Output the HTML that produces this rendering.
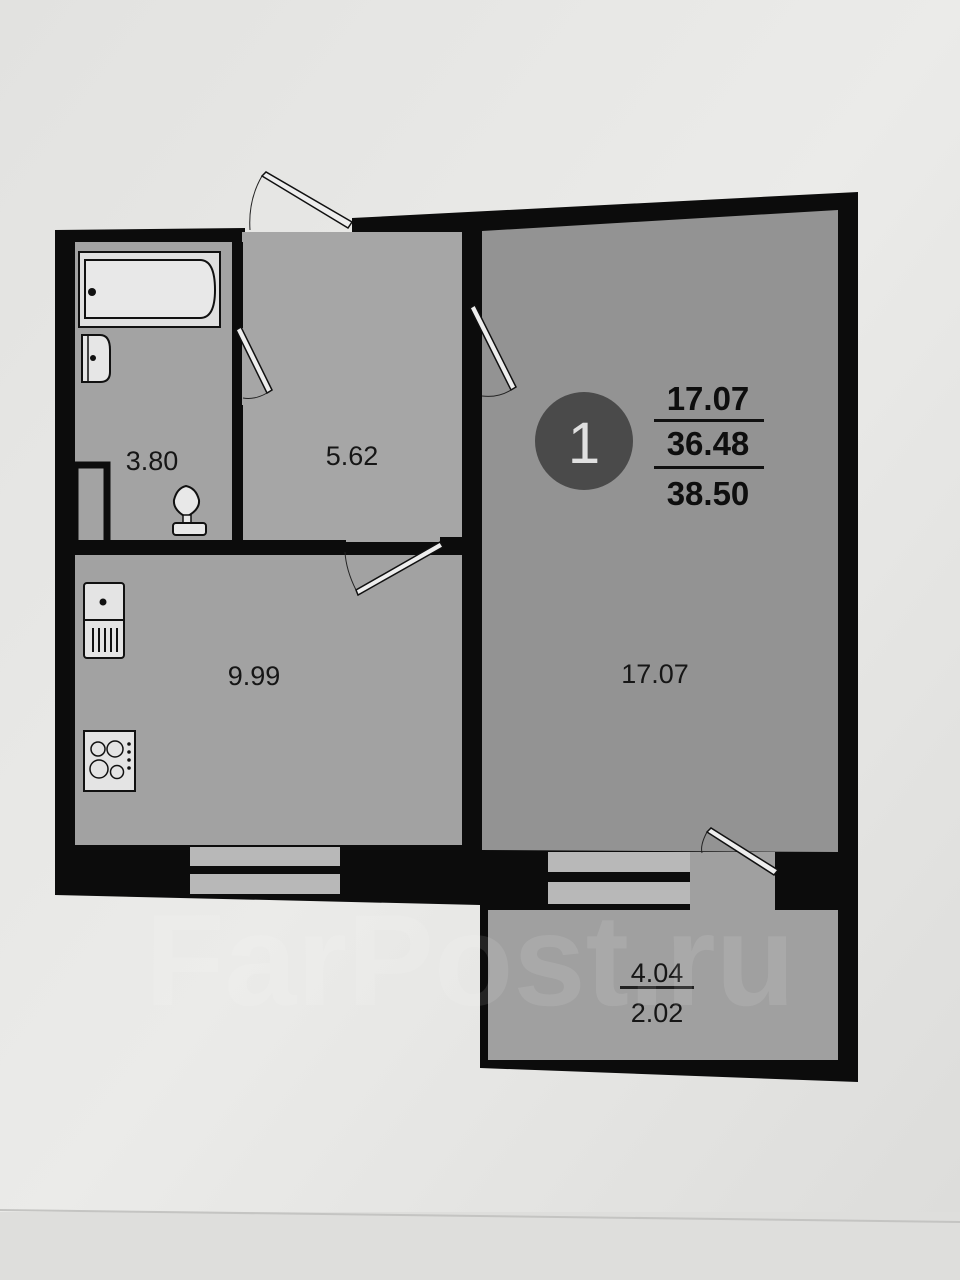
<!DOCTYPE html>
<html><head><meta charset="utf-8"><style>
html,body{margin:0;padding:0;width:960px;height:1280px;overflow:hidden;background:#e4e4e2;}
svg{display:block}
text{font-family:"Liberation Sans",Arial,sans-serif;}
</style></head><body>
<svg width="960" height="1280" viewBox="0 0 960 1280">
<defs>
<linearGradient id="bg" x1="0" y1="0" x2="1" y2="1">
<stop offset="0" stop-color="#e2e2e0"/><stop offset="0.5" stop-color="#ebebe9"/><stop offset="1" stop-color="#dcdcda"/>
</linearGradient>
</defs>
<rect width="960" height="1280" fill="url(#bg)"/>
<rect x="0" y="1212" width="960" height="68" fill="#dededc"/>
<line x1="0" y1="1210" x2="960" y2="1222" stroke="#c4c4c2" stroke-width="2"/>

<polygon points="55,230 245,228 245,242 352,242 352,218 858,192 858,1082 480,1068 480,905 55,895" fill="#0c0c0c"/>

<rect x="75" y="242" width="157" height="300" fill="#a3a3a3"/>
<rect x="242" y="232" width="220" height="310" fill="#a6a6a6"/>
<rect x="75" y="555" width="387" height="290" fill="#a2a2a2"/>
<polygon points="482,231 838,210 838,852 482,850" fill="#939393"/>
<rect x="488" y="910" width="350" height="150" fill="#a0a0a0"/>
<rect x="690" y="852" width="85" height="60" fill="#a0a0a0"/>

<rect x="232" y="242" width="11" height="86" fill="#0c0c0c"/>
<rect x="232" y="405" width="11" height="140" fill="#0c0c0c"/>
<rect x="462" y="224" width="20" height="82" fill="#0c0c0c"/>
<rect x="462" y="395" width="20" height="455" fill="#0c0c0c"/>
<rect x="68" y="540" width="278" height="15" fill="#0c0c0c"/>
<rect x="440" y="537" width="24" height="18" fill="#0c0c0c"/>
<rect x="75" y="465" width="32" height="80" fill="none" stroke="#0c0c0c" stroke-width="7"/>

<rect x="190" y="847" width="150" height="19" fill="#b8b8b8"/>
<rect x="190" y="874" width="150" height="20" fill="#b8b8b8"/>
<rect x="548" y="852" width="142" height="20" fill="#b8b8b8"/>
<rect x="548" y="882" width="142" height="22" fill="#b8b8b8"/>

<g stroke="#111" stroke-width="1.5" fill="#eee">
<polygon points="262,176 266,172 352,222 348,228"/>
<polygon points="236,330 241,327 272,390 267,393"/>
<polygon points="470,308 475,305 516,387 511,390"/>
<polygon points="358,595 356,590 440,542 443,547"/>
<polygon points="707,832 711,828 778,870 774,875"/>
</g>
<g stroke="#222" stroke-width="1" fill="none">
<path d="M262,176 Q248,200 250,230"/>
<path d="M267,393 Q255,400 243,398"/>
<path d="M511,390 Q498,398 482,396"/>
<path d="M356,590 Q346,570 345,552"/>
<path d="M707,832 Q700,845 702,853"/>
</g>

<rect x="79" y="252" width="141" height="75" fill="#e0e0e0" stroke="#111" stroke-width="2"/>
<path d="M85,260 L200,260 Q215,260 215,290 Q215,318 200,318 L85,318 Z" fill="#e8e8e8" stroke="#111" stroke-width="2"/>
<circle cx="92" cy="292" r="4" fill="#111"/>
<path d="M82,335 L100,335 Q110,335 110,350 L110,372 Q110,382 100,382 L82,382 Z" fill="#e6e6e6" stroke="#111" stroke-width="2"/>
<line x1="88" y1="335" x2="88" y2="382" stroke="#111" stroke-width="1.5"/>
<circle cx="93" cy="358" r="3" fill="#111"/>
<path d="M186,517 Q173,510 174,500 Q177,488 186,486 Q196,488 199,500 Q200,510 186,517 Z" fill="#e8e8e8" stroke="#111" stroke-width="2"/>
<rect x="183" y="515" width="8" height="8" fill="#e8e8e8" stroke="#111" stroke-width="1.5"/>
<rect x="173" y="523" width="33" height="12" rx="3" fill="#e8e8e8" stroke="#111" stroke-width="2"/>
<rect x="84" y="583" width="40" height="75" rx="3" fill="#e4e4e4" stroke="#111" stroke-width="2"/>
<line x1="84" y1="620" x2="124" y2="620" stroke="#111" stroke-width="2"/>
<circle cx="103" cy="602" r="3.5" fill="#111"/>
<g stroke="#111" stroke-width="2"><line x1="93" y1="628" x2="93" y2="652"/><line x1="99" y1="628" x2="99" y2="652"/><line x1="105" y1="628" x2="105" y2="652"/><line x1="111" y1="628" x2="111" y2="652"/><line x1="117" y1="628" x2="117" y2="652"/></g>
<rect x="84" y="731" width="51" height="60" fill="#e4e4e4" stroke="#111" stroke-width="2"/>
<g fill="none" stroke="#111" stroke-width="1.5"><circle cx="98" cy="749" r="7"/><circle cx="115" cy="749" r="8"/><circle cx="99" cy="769" r="9"/><circle cx="117" cy="772" r="6.5"/></g>
<g fill="#111"><circle cx="129" cy="744" r="1.8"/><circle cx="129" cy="752" r="1.8"/><circle cx="129" cy="760" r="1.8"/><circle cx="129" cy="768" r="1.8"/></g>

<g fill="#161616" font-size="27">
<text x="152" y="470" text-anchor="middle">3.80</text>
<text x="352" y="465" text-anchor="middle">5.62</text>
<text x="254" y="685" text-anchor="middle">9.99</text>
<text x="655" y="683" text-anchor="middle">17.07</text>
<text x="657" y="982" text-anchor="middle">4.04</text>
<text x="657" y="1022" text-anchor="middle">2.02</text>
</g>
<rect x="620" y="986" width="74" height="3" fill="#222"/>
<circle cx="584" cy="441" r="49" fill="#4a4a4a"/>
<text x="584" y="463" text-anchor="middle" font-size="58" fill="#e0e0e0">1</text>
<g fill="#0e0e0e" font-size="33" font-weight="bold">
<text x="708" y="410" text-anchor="middle">17.07</text>
<text x="708" y="455" text-anchor="middle">36.48</text>
<text x="708" y="505" text-anchor="middle">38.50</text>
</g>
<rect x="654" y="419" width="110" height="3" fill="#111"/>
<rect x="654" y="466" width="110" height="3" fill="#111"/>

<text x="470" y="1005" text-anchor="middle" font-size="130" font-weight="bold" fill="#ffffff" fill-opacity="0.1">FarPost.ru</text>
</svg>
</body></html>
